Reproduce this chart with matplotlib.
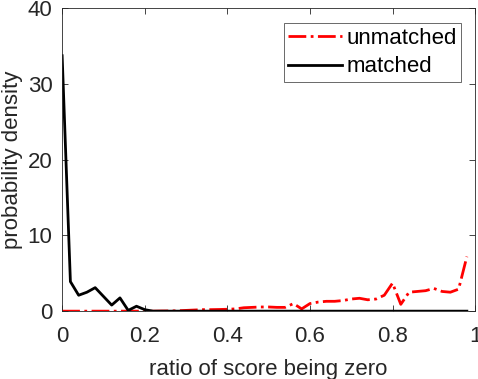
import numpy as np
import matplotlib
matplotlib.use('Agg')
import matplotlib.pyplot as plt

# Datos (centros de bin cada 0.02)
x = np.arange(50) * 0.02

matched = [33.7, 3.9, 2.1, 2.5, 3.1, 1.95, 0.8, 1.75, 0.1, 0.65,
           0.2, 0.0, 0.0, 0.0, 0.0, 0.0, 0.0, 0.0, 0.0, 0.0,
           0.0, 0.0, 0.0, 0.0, 0.0, 0.0, 0.0, 0.0, 0.0, 0.0,
           0.0, 0.0, 0.0, 0.0, 0.0, 0.0, 0.0, 0.0, 0.0, 0.0,
           0.0, 0.0, 0.0, 0.0, 0.0, 0.0, 0.0, 0.0, 0.0, 0.0]

unmatched = [0.0, 0.0, 0.0, 0.0, 0.0, 0.0, 0.0, 0.0, 0.0, 0.0,
             0.0, 0.0, 0.02, 0.03, 0.05, 0.1, 0.15, 0.2, 0.2, 0.22,
             0.25, 0.3, 0.45, 0.5, 0.55, 0.55, 0.5, 0.5, 1.0, 0.3,
             1.0, 1.2, 1.3, 1.3, 1.4, 1.6, 1.7, 1.5, 1.6, 2.1,
             3.7, 0.9, 2.5, 2.6, 2.7, 3.0, 2.6, 2.5, 2.9, 7.2]

plt.rcParams['font.family'] = ['Liberation Sans', 'DejaVu Sans']

fig = plt.figure(figsize=(4.78, 3.79), dpi=100)
ax = fig.add_axes([0.13, 0.179, 0.864, 0.8])

ax.plot(x, unmatched, color='red', linestyle='-.', linewidth=2, label='unmatched')
ax.plot(x, matched, color='black', linestyle='-', linewidth=2, label='matched')

ax.set_xlim(0, 1)
ax.set_ylim(0, 40)
ax.set_xticks([0, 0.2, 0.4, 0.6, 0.8, 1])
ax.set_xticklabels(['0', '0.2', '0.4', '0.6', '0.8', '1'])
ax.set_yticks([0, 10, 20, 30, 40])

gris = '#262626'
for s in ax.spines.values():
    s.set_color(gris)
    s.set_linewidth(0.6)
ax.tick_params(direction='in', top=True, right=True, length=4, width=0.6,
               colors=gris, labelsize=16, labelcolor=gris)
ax.tick_params(axis='x', pad=11)
ax.tick_params(axis='y', pad=7)

ax.set_xlabel('ratio of score being zero', fontsize=16, color=gris, labelpad=8)
ax.set_ylabel('probability density', fontsize=16, color=gris, labelpad=3)

leg = ax.legend(loc='upper right', fontsize=16, frameon=True, fancybox=False,
                edgecolor=gris, handlelength=2.4, borderpad=0.2,
                labelspacing=0.35, handletextpad=0.2, borderaxespad=0,
                bbox_to_anchor=(0.966, 0.95))
leg.get_frame().set_linewidth(0.6)

fig.savefig('out.png', dpi=100)
